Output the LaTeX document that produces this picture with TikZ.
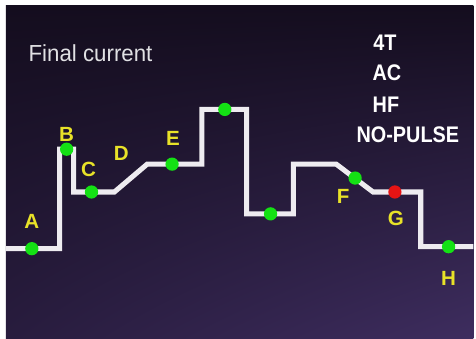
\documentclass[tikz,border=0pt]{standalone}
\usepackage{fontspec}
\setmainfont{Liberation Sans}
\usetikzlibrary{shadings}
\definecolor{bgtop}{RGB}{20,13,30}
\definecolor{bgbotl}{RGB}{40,28,62}
\definecolor{bgbotr}{RGB}{62,45,95}
\definecolor{tracewhite}{RGB}{238,236,240}
\definecolor{dotgreen}{RGB}{20,225,20}
\definecolor{dotred}{RGB}{230,20,20}
\definecolor{lettery}{RGB}{232,226,40}
\definecolor{titlegray}{RGB}{225,225,228}

\begin{document}
\begin{tikzpicture}[x=0.75pt, y=-0.75pt, line join=miter,
      every node/.append style={inner sep=0pt, outer sep=0pt}]
    \tikzstyle{dot} = [circle, fill=dotgreen, minimum size=10pt]
    \tikzstyle{letter} = [font=\fontsize{15.5}{16}\selectfont\bfseries, text=lettery]
    \tikzstyle{mode} = [font=\fontsize{17}{18}\selectfont\bfseries, text=white, xscale=0.88, transform shape]
    \tikzstyle{trace} = [draw=tracewhite, line width=3.8pt]
    % frame and dark screen
    \fill[white] (0,0) rectangle (476,340);
    \shade[upper left=bgtop, upper right=bgtop, lower left=bgbotl, lower right=bgbotr]
      (6,6) rectangle (476,340);
    \node[font=\fontsize{17.5}{18}\selectfont, text=titlegray, xscale=0.96, transform shape] (title) at (91,53) {Final current};
    \node[mode] (fourT) at (387,43) {4T};
    \node[mode] (ac) at (389,73) {AC};
    \node[mode] (hf) at (388,105) {HF};
    \node[mode] (nopulse) at (410,135) {NO-PULSE};
    % current trace
    \coordinate (start) at (6,250);
    \coordinate (end) at (476,248);
    \draw[trace] (start) -- (60,250) -- (60,150) -- (74,150) -- (74,193) -- (115,193)
      -- (148,165) -- (203,165) -- (203,110) -- (248,110) -- (248,215) -- (295,215)
      -- (295,165) -- (338,165) -- (375,193) -- (423,193) -- (423,248) -- (end);
    % points on the trace
    \node[dot] (A) at (32,250) {};
    \node[dot] (B) at (67,150) {};
    \node[dot] (C) at (92,193) {};
    \node[dot] (E) at (173,165) {};
    \node[dot] (peak) at (226,110) {};
    \node[dot] (valley) at (272,215) {};
    \node[dot] (F) at (357,179) {};
    \node[dot, fill=dotred] (G) at (397,193) {};
    \node[dot] (H) at (451,248) {};
    \node[letter] (A_label) at (32,223) {A};
    \node[letter] (B_label) at (67,135) {B};
    \node[letter] (C_label) at (89,170) {C};
    \node[letter] (D_label) at (122,154) {D};
    \node[letter] (E_label) at (174,139) {E};
    \node[letter] (F_label) at (345,197) {F};
    \node[letter] (G_label) at (398,220) {G};
    \node[letter] (H_label) at (451,280) {H};
\end{tikzpicture}
\end{document}
